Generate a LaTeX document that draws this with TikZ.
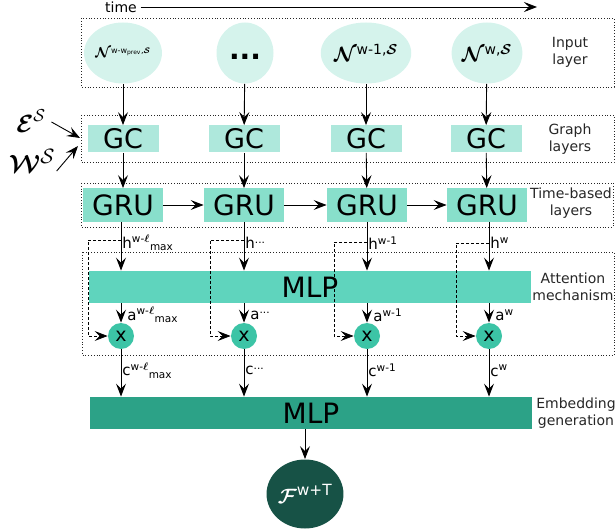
\documentclass[tikz,border=0pt]{standalone}
\usepackage{fontspec}
\setmainfont{DejaVu Sans}
\usepackage{amsmath}
\usepackage{bm}
\usetikzlibrary{shapes.geometric, arrows.meta}

\definecolor{inputfill}{HTML}{D5F3EC}
\definecolor{gcfill}{HTML}{AEE8DC}
\definecolor{grufill}{HTML}{88DFCB}
\definecolor{attfill}{HTML}{5FD4BD}
\definecolor{mulfill}{HTML}{3CC4A6}
\definecolor{embfill}{HTML}{2CA287}
\definecolor{outfill}{HTML}{175246}

\begin{document}
\begin{tikzpicture}[x=1pt, y=-1pt, >={Stealth[length=13pt, width=10pt, inset=5pt]}, line width=0.9pt,
  incircle/.style={ellipse, fill=inputfill, minimum width=57pt, minimum height=61pt, inner sep=0pt},
  gcbox/.style={rectangle, fill=gcfill, minimum width=71pt, minimum height=27pt, inner sep=0pt, font=\fontsize{27}{27}\selectfont},
  grubox/.style={rectangle, fill=grufill, minimum width=80pt, minimum height=33pt, inner sep=0pt, font=\fontsize{28}{28}\selectfont},
  mlpbar/.style={rectangle, minimum width=442pt, minimum height=32pt, inner sep=0pt, font=\fontsize{28}{28}\selectfont},
  mul/.style={circle, fill=mulfill, minimum size=26pt, inner sep=0pt, font=\fontsize{19}{19}\selectfont},
  frame/.style={draw=black!85, dotted, line width=0.8pt},
  layerlabel/.style={align=center, font=\fontsize{14}{17}\selectfont, text=black!85},
  vlabel/.style={right, inner sep=1pt, font=\fontsize{15}{15}\selectfont},
  dashline/.style={line width=0.7pt, dash pattern=on 3pt off 2pt}]
\useasboundingbox (0,0) rectangle (616,532);

% time axis
\node[font=\fontsize{14}{14}\selectfont] (time) at (121,7) {time};
\coordinate (tend) at (537,7);
\draw[->] (time.east) -- (tend);

% layer frames
\draw[frame] (81,18) rectangle (614,87);
\draw[frame] (81,115) rectangle (614,162);
\draw[frame] (81,183) rectangle (613,227);
\draw[frame] (82,252) rectangle (614,355);

\node[layerlabel] (l1) at (570,52) {Input\\layer};
\node[layerlabel] (l2) at (570,139) {Graph\\layers};
\node[layerlabel] (l3) at (571,203) {Time-based\\layers};
\node[layerlabel] (l4) at (573,287) {Attention\\mechanism};
\node[layerlabel] (l5) at (576,413) {Embedding\\generation};

% input snapshots
\node[incircle] (n1) at (123,53) {{\fontsize{15}{15}\selectfont$\bm{\mathcal{N}}$}{\fontsize{12}{12}\selectfont\textsuperscript{w-w\textsubscript{prev},$\bm{\mathcal{S}}$}}};
\node[incircle, text height=0pt, text depth=0pt] (n2) at (245,53) {\raisebox{-7pt}{\fontsize{28}{28}\selectfont\bfseries ...}};
\node[incircle] (n3) at (366,53) {{\fontsize{22}{22}\selectfont$\bm{\mathcal{N}}$}{\fontsize{20}{20}\selectfont\textsuperscript{w-1,$\bm{\mathcal{S}}$}}};
\node[incircle] (n4) at (487,53) {{\fontsize{22}{22}\selectfont$\bm{\mathcal{N}}$}{\fontsize{20}{20}\selectfont\textsuperscript{w,$\bm{\mathcal{S}}$}}};

% graph convolutions
\node[gcbox] (gc1) at (123,139) {GC};
\node[gcbox] (gc2) at (244,139) {GC};
\node[gcbox] (gc3) at (366,139) {GC};
\node[gcbox] (gc4) at (486,139) {GC};

\node[font=\fontsize{27}{27}\selectfont] (edges) at (31,121) {$\bm{\mathcal{E}}^{\mathcal{S}}$};
\node[font=\fontsize{28}{28}\selectfont] (wts) at (32,161) {$\bm{\mathcal{W}}^{\mathcal{S}}$};
\coordinate (ein) at (80,138);
\coordinate (win) at (78,146);
\draw[->] ([xshift=2pt, yshift=-1pt]edges.east) -- (ein);
\draw[->] ([xshift=-2pt, yshift=-10pt]wts.east) -- (win);

% recurrent units
\node[grubox] (gru1) at (123,205) {GRU};
\node[grubox] (gru2) at (244,205) {GRU};
\node[grubox] (gru3) at (367,205) {GRU};
\node[grubox] (gru4) at (487,205) {GRU};

% attention
\node[mlpbar, fill=attfill] (att) at (310,287) {MLP};
\node[mul] (m1) at (121,336) {x};
\node[mul] (m2) at (244,336) {x};
\node[mul] (m3) at (367,336) {x};
\node[mul] (m4) at (489,336) {x};

% embedding and output
\node[mlpbar, fill=embfill] (emb) at (311,413) {MLP};
\node[ellipse, fill=outfill, minimum width=67pt, minimum height=69pt, inner sep=0pt, text=white] (out) at (305,494)
  {{\fontsize{22}{22}\selectfont$\bm{\mathcal{F}}$}{\fontsize{22}{22}\selectfont\textsuperscript{w+T}}};

\draw[->] (n1) -- (gc1);
\draw[->] (n2) -- (gc2);
\draw[->] (n3) -- (gc3);
\draw[->] (n4) -- (gc4);

\draw[->] (gc1) -- (gru1);
\draw[->] (gc2) -- (gru2);
\draw[->] (gc3) -- (gru3);
\draw[->] (gc4) -- (gru4);

\draw[->] (gru1) -- (gru2);
\draw[->] (gru2) -- (gru3);
\draw[->] (gru3) -- (gru4);

\draw[->] (m1 |- gru1.south) -- node[vlabel, pos=0.43] {h\textsuperscript{w-$\bm{\ell}$}\textsubscript{max}} (m1 |- att.north);
\draw[->] (m2 |- gru2.south) -- node[vlabel, pos=0.43] {h\textsuperscript{...}} (m2 |- att.north);
\draw[->] (m3 |- gru3.south) -- node[vlabel, pos=0.43] {h\textsuperscript{w-1}} (m3 |- att.north);
\draw[->] (m4 |- gru4.south) -- node[vlabel, pos=0.43] {h\textsuperscript{w}} (m4 |- att.north);

\draw[->] (m1 |- att.south) -- node[vlabel, pos=0.6, xshift=5pt] {a\textsuperscript{w-$\bm{\ell}$}\textsubscript{max}} (m1);
\draw[->] (m2 |- att.south) -- node[vlabel, pos=0.6, xshift=5pt] {a\textsuperscript{...}} (m2);
\draw[->] (m3 |- att.south) -- node[vlabel, pos=0.6, xshift=5pt] {a\textsuperscript{w-1}} (m3);
\draw[->] (m4 |- att.south) -- node[vlabel, pos=0.6, xshift=5pt] {a\textsuperscript{w}} (m4);

% skip connections of the hidden states
\coordinate (h1) at (121,240);
\coordinate (h2) at (244,240);
\coordinate (h3) at (367,242);
\coordinate (h4) at (489,243);
\coordinate (d1) at (88,240);
\coordinate (d2) at (210,240);
\coordinate (d3) at (334,242);
\coordinate (d4) at (456,243);
\draw[dashline, ->] (h1) -- (d1) |- (m1.west);
\draw[dashline, ->] (h2) -- (d2) |- (m2.west);
\draw[dashline, ->] (h3) -- (d3) |- (m3.west);
\draw[dashline, ->] (h4) -- (d4) |- (m4.west);

\draw[->] (m1) -- node[vlabel, pos=0.45] {c\textsuperscript{w-$\bm{\ell}$}\textsubscript{max}} (m1 |- emb.north);
\draw[->] (m2) -- node[vlabel, pos=0.45] {c\textsuperscript{...}} (m2 |- emb.north);
\draw[->] (m3) -- node[vlabel, pos=0.45] {c\textsuperscript{w-1}} (m3 |- emb.north);
\draw[->] (m4) -- node[vlabel, pos=0.45] {c\textsuperscript{w}} (m4 |- emb.north);

\draw[->] (out |- emb.south) -- (out);
\end{tikzpicture}
\end{document}
